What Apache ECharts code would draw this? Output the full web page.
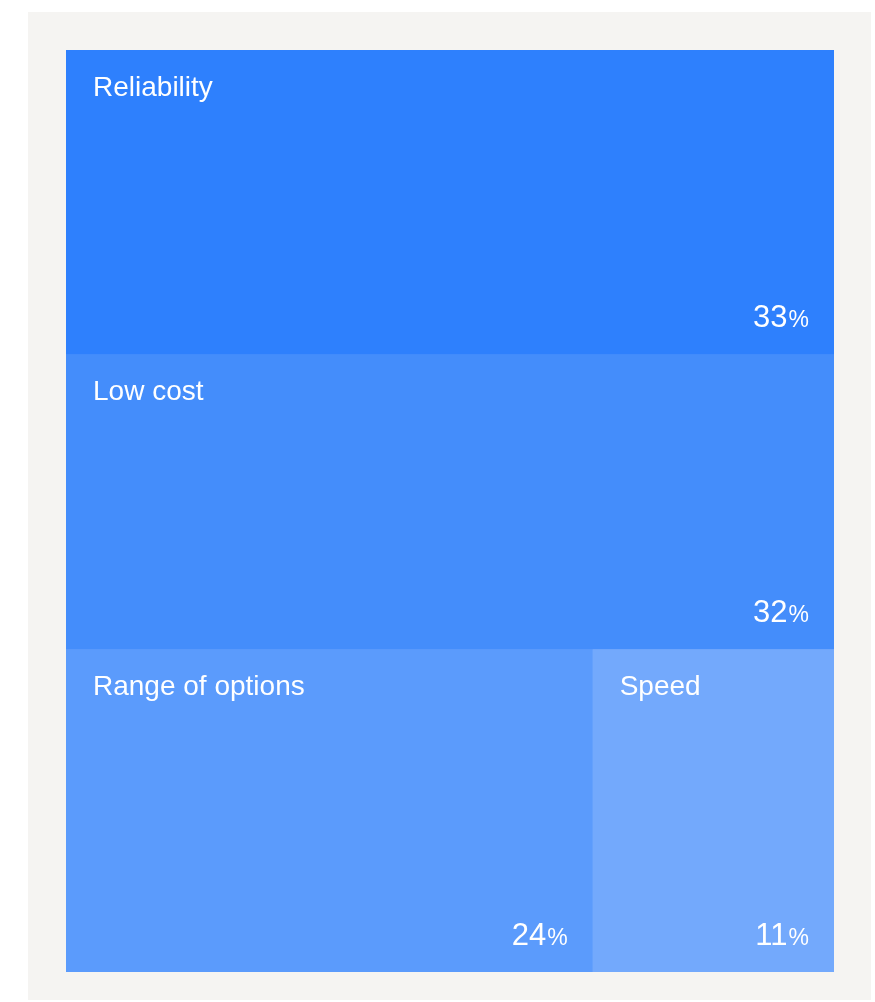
<!DOCTYPE html>
<html>
<head>
<meta charset="utf-8">
<title>What matters most</title>
<script src="https://cdn.jsdelivr.net/npm/echarts@6/dist/echarts.min.js"></script>
<style>
  html, body { margin: 0; padding: 0; background: #ffffff; }
  #panel { position: absolute; left: 28px; top: 12px; width: 843px; height: 988px; background: #f5f4f2; }
  #chart { position: absolute; left: 0; top: 0; width: 875px; height: 1002px; }
</style>
</head>
<body>
<div id="panel"></div>
<div id="chart"></div>
<script>
// Share of respondents naming each factor (percent)
const categories = ['Reliability', 'Low cost', 'Range of options', 'Speed'];
const shares = [33, 32, 24, 11];
const cellColors = ['#2e80fd', '#448dfb', '#5b9bfc', '#73a9fc'];
// Factors grouped into horizontal bands of the treemap
const bands = [[0, 1], [2, 3]];

const FONT = 'Liberation Sans';
const CLEAR = 'rgba(0,0,0,0)';

// Tree for the treemap; the overlay copy carries no fill so only its labels show
function buildTree(withColor) {
  return bands.map((members, b) => ({
    name: 'band' + b,
    value: members.reduce((s, i) => s + shares[i], 0),
    itemStyle: withColor
      ? { color: cellColors[members[0]], borderColor: cellColors[members[0]] }
      : { color: CLEAR, borderColor: CLEAR },
    children: members.map(i => ({
      name: categories[i],
      value: shares[i],
      itemStyle: withColor
        ? { color: cellColors[i], borderColor: cellColors[i] }
        : { color: CLEAR, borderColor: CLEAR }
    }))
  }));
}

const common = {
  type: 'treemap',
  left: 66,
  top: 50,
  width: 768,
  height: 922,
  squareRatio: 1.45,
  roam: false,
  nodeClick: false,
  animation: false,
  breadcrumb: { show: false },
  upperLabel: { show: false }
};

const chart = echarts.init(document.getElementById('chart'), null, { renderer: 'canvas' });
chart.setOption({
  animation: false,
  series: [
    Object.assign({}, common, {
      name: 'cells',
      itemStyle: { borderWidth: 0, gapWidth: 0, borderColor: '#448dfb' },
      label: {
        show: true,
        position: 'insideTopLeft',
        distance: 0,
        padding: [24, 0, 0, 27],
        color: '#ffffff',
        fontFamily: FONT,
        fontSize: 28,
        lineHeight: 28,
        formatter: '{b}'
      },
      data: buildTree(true)
    }),
    Object.assign({}, common, {
      name: 'shares',
      silent: true,
      color: [CLEAR],
      itemStyle: { color: CLEAR, borderWidth: 0, gapWidth: 0, borderColor: CLEAR },
      label: {
        show: true,
        position: 'insideBottomRight',
        distance: 0,
        padding: [0, 25, 0, 0],
        color: '#ffffff',
        formatter: p => '{v|' + p.value + '}{p|%}',
        rich: {
          v: { fontFamily: FONT, fontSize: 31, lineHeight: 31, color: '#ffffff', verticalAlign: 'bottom' },
          p: { fontFamily: FONT, fontSize: 23, color: '#ffffff', verticalAlign: 'bottom', padding: [0, 0, 2, 1] }
        }
      },
      labelLayout: p => ({ dy: p.rect.height - 51 }),
      data: buildTree(false)
    })
  ]
});
</script>
</body>
</html>
